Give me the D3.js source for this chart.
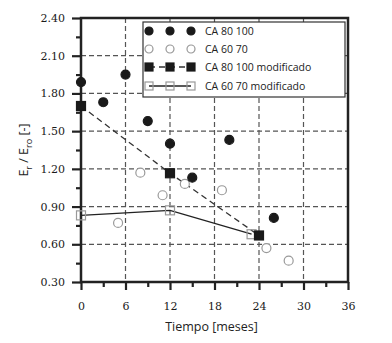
<!DOCTYPE html>
<html>
<head>
<meta charset="utf-8">
<script src="https://cdn.jsdelivr.net/npm/d3@7"></script>
<style>
  body { margin: 0; background: #fff; }
  svg { display: block; }
</style>
</head>
<body>
<div id="chart"></div>
<script>
// Data
const ca80x = [0, 3, 6, 9, 12, 15, 20, 26];
const ca80y = [1.89, 1.73, 1.95, 1.58, 1.40, 1.13, 1.43, 0.81];

const ca60x = [5, 8, 11, 14, 19, 25, 28];
const ca60y = [0.77, 1.17, 0.99, 1.08, 1.03, 0.57, 0.47];

const ca80modX = [0, 12, 24];
const ca80modY = [1.70, 1.165, 0.67];

const ca60modX = [0, 12, 23];
const ca60modY = [0.83, 0.87, 0.68];

const xTicks = [0, 6, 12, 18, 24, 30, 36];
const yTicks = [0.30, 0.60, 0.90, 1.20, 1.50, 1.80, 2.10, 2.40];
const legendLabels = ["CA 80 100", "CA 60 70", "CA 80 100 modificado", "CA 60 70 modificado"];

const width = 392, height = 343;
const margin = { top: 18, right: 44, bottom: 61, left: 81 };
const innerW = width - margin.left - margin.right;
const innerH = height - margin.top - margin.bottom;

const svg = d3.select("#chart")
  .append("svg")
  .attr("width", width)
  .attr("height", height);

const g = svg.append("g")
  .attr("transform", `translate(${margin.left},${margin.top})`);

const x = d3.scaleLinear().domain([0, 36]).range([0, innerW]);
const y = d3.scaleLinear().domain([0.30, 2.40]).range([innerH, 0]);

const gridColor = "#555";

// Grid lines (dashed)
g.append("g")
  .selectAll("line")
  .data(xTicks.filter((d) => d > 0 && d < 36))
  .join("line")
  .attr("x1", (d) => x(d)).attr("x2", (d) => x(d))
  .attr("y1", 0).attr("y2", innerH)
  .attr("stroke", gridColor)
  .attr("stroke-width", 1.2)
  .attr("stroke-dasharray", "5,3");

g.append("g")
  .selectAll("line")
  .data(yTicks.filter((d) => d > 0.3 && d < 2.4))
  .join("line")
  .attr("x1", 0).attr("x2", innerW)
  .attr("y1", (d) => y(d)).attr("y2", (d) => y(d))
  .attr("stroke", gridColor)
  .attr("stroke-width", 1.2)
  .attr("stroke-dasharray", "5,3");

// Axes
const xAxis = d3.axisBottom(x)
  .tickValues(xTicks)
  .tickFormat(d3.format("d"))
  .tickSizeInner(8)
  .tickSizeOuter(0)
  .tickPadding(12);

const xMinor = d3.axisBottom(x)
  .tickValues(d3.range(3, 36, 6))
  .tickFormat("")
  .tickSizeInner(5)
  .tickSizeOuter(0);

const yAxis = d3.axisLeft(y)
  .tickValues(yTicks)
  .tickFormat(d3.format(".2f"))
  .tickSizeInner(9)
  .tickSizeOuter(0)
  .tickPadding(7);

const yMinor = d3.axisLeft(y)
  .tickValues(yTicks.slice(0, -1).map((d) => d + 0.15))
  .tickFormat("")
  .tickSizeInner(5)
  .tickSizeOuter(0);

const styleAxis = (sel) => {
  sel.select(".domain").remove();
  sel.selectAll("line").attr("stroke", "#222").attr("stroke-width", 2.2);
  sel.selectAll("text")
    .attr("fill", "#1a1a1a")
    .style("font-family", "'DejaVu Serif', serif")
    .style("font-size", "11px");
};

g.append("g").attr("transform", `translate(0,${innerH})`).call(xMinor).call(styleAxis);
g.append("g").attr("transform", `translate(0,${innerH})`).call(xAxis).call(styleAxis);
g.append("g").call(yMinor).call(styleAxis);
g.append("g").call(yAxis).call(styleAxis);

// Plot frame
g.append("rect")
  .attr("x", 0).attr("y", 0)
  .attr("width", innerW).attr("height", innerH)
  .attr("fill", "none")
  .attr("stroke", "#222")
  .attr("stroke-width", 2.5);

// Series lines
const line = d3.line().x((d) => x(d[0])).y((d) => y(d[1]));

g.append("path")
  .datum(ca80modX.map((d, i) => [d, ca80modY[i]]))
  .attr("d", line)
  .attr("fill", "none")
  .attr("stroke", "#333")
  .attr("stroke-width", 1.3)
  .attr("stroke-dasharray", "6,4");

g.append("path")
  .datum(ca60modX.map((d, i) => [d, ca60modY[i]]))
  .attr("d", line)
  .attr("fill", "none")
  .attr("stroke", "#222")
  .attr("stroke-width", 1.3);

// Markers
const drawCircles = (xs, ys, filled) => {
  g.append("g")
    .selectAll("circle")
    .data(xs.map((d, i) => [d, ys[i]]))
    .join("circle")
    .attr("cx", (d) => x(d[0]))
    .attr("cy", (d) => y(d[1]))
    .attr("r", 4.5)
    .attr("fill", filled ? "#1a1a1a" : "#fff")
    .attr("stroke", filled ? "#1a1a1a" : "#999")
    .attr("stroke-width", 1.2);
};

const drawSquares = (xs, ys, filled) => {
  g.append("g")
    .selectAll("rect")
    .data(xs.map((d, i) => [d, ys[i]]))
    .join("rect")
    .attr("x", (d) => x(d[0]) - 4.5)
    .attr("y", (d) => y(d[1]) - 4.5)
    .attr("width", 9)
    .attr("height", 9)
    .attr("fill", filled ? "#1a1a1a" : "none")
    .attr("stroke", filled ? "#1a1a1a" : "#999")
    .attr("stroke-width", 1.2);
};

drawCircles(ca60x, ca60y, false);
drawSquares(ca60modX, ca60modY, false);
drawCircles(ca80x, ca80y, true);
drawSquares(ca80modX, ca80modY, true);

// Legend
const legend = svg.append("g").attr("transform", "translate(143,22)");
legend.append("rect")
  .attr("width", 202).attr("height", 75)
  .attr("fill", "#fff")
  .attr("stroke", "#333")
  .attr("stroke-width", 1.2);

const sampleX = [6, 27, 48];
const rowY = [9, 27, 45, 64];

legendLabels.forEach((label, i) => {
  const row = legend.append("g").attr("transform", `translate(0,${rowY[i]})`);
  if (i === 2) {
    row.append("line").attr("x1", sampleX[0]).attr("x2", sampleX[2])
      .attr("stroke", "#333").attr("stroke-width", 1.3).attr("stroke-dasharray", "6,4");
  }
  if (i === 3) {
    row.append("line").attr("x1", sampleX[0]).attr("x2", sampleX[2])
      .attr("stroke", "#222").attr("stroke-width", 1.3);
  }
  sampleX.forEach((sx) => {
    if (i < 2) {
      row.append("circle").attr("cx", sx).attr("cy", 0).attr("r", 4)
        .attr("fill", i === 0 ? "#1a1a1a" : "#fff")
        .attr("stroke", i === 0 ? "#1a1a1a" : "#999")
        .attr("stroke-width", 1.2);
    } else {
      row.append("rect").attr("x", sx - 4).attr("y", -4).attr("width", 8).attr("height", 8)
        .attr("fill", i === 2 ? "#1a1a1a" : "none")
        .attr("stroke", i === 2 ? "#1a1a1a" : "#999")
        .attr("stroke-width", 1.2);
    }
  });
  row.append("text")
    .attr("x", 62).attr("y", 0).attr("dy", "0.35em")
    .attr("fill", "#222")
    .style("font-family", "'Open Sans', sans-serif")
    .style("font-size", "10.5px")
    .text(label);
});

// Axis titles
svg.append("text")
  .attr("x", margin.left + innerW / 2 - 3)
  .attr("y", 331)
  .attr("text-anchor", "middle")
  .attr("fill", "#222")
  .style("font-family", "'Open Sans', sans-serif")
  .style("font-size", "12.5px")
  .text("Tiempo [meses]");

const yTitle = svg.append("text")
  .attr("transform", `translate(28,${margin.top + innerH / 2}) rotate(-90)`)
  .attr("text-anchor", "middle")
  .attr("fill", "#222")
  .style("font-family", "'Open Sans', sans-serif")
  .style("font-size", "12.5px");
yTitle.append("tspan").text("E");
yTitle.append("tspan").attr("dy", 4).style("font-size", "9px").text("r");
yTitle.append("tspan").attr("dy", -4).text(" / E");
yTitle.append("tspan").attr("dy", 4).style("font-size", "9px").text("ro");
yTitle.append("tspan").attr("dy", -4).text(" [-]");
</script>
</body>
</html>
